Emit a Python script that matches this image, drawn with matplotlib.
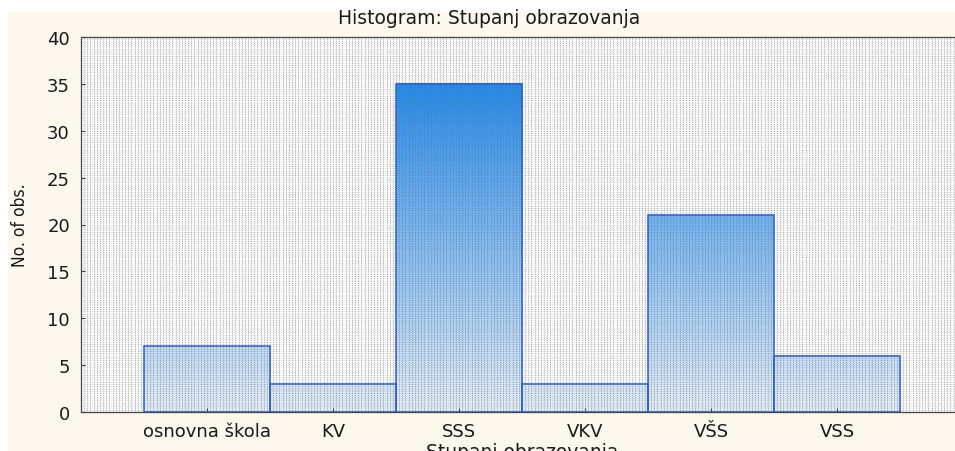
import numpy as np
import matplotlib.pyplot as plt
from matplotlib.colors import LinearSegmentedColormap
from matplotlib.patches import Rectangle

# data
categories = ['osnovna škola', 'KV', 'SSS', 'VKV', 'VŠS', 'VSS']
counts = [7, 3, 35, 3, 21, 6]
yticks = [0, 5, 10, 15, 20, 25, 30, 35, 40]

plt.rcParams['font.family'] = ['DejaVu Sans']

fig = plt.figure(figsize=(9.55, 4.52), dpi=100)
fig.patch.set_facecolor('white')
# cream panel (the screenshot has a thin white strip top/left)
fig.patches.append(Rectangle((8/955, 0), 1, 1 - 13/452, transform=fig.transFigure,
                             facecolor='#fdf8ee', edgecolor='none', zorder=-10))

ax = fig.add_axes([81/955, 39/452, 882/955, 375/452])
ax.set_facecolor('white')
ax.set_xlim(0, 7)
ax.set_ylim(0, 40)

# blue gradient, depends on the y value
cmap = LinearSegmentedColormap.from_list('bl', ['#e4eefa', '#1e8af0'])
xs = np.arange(1, len(categories) + 1)
for x, h in zip(xs, counts):
    grad = np.linspace(0, h, 200).reshape(-1, 1)
    ax.imshow(grad, extent=[x - 0.5, x + 0.5, 0, h], origin='lower', aspect='auto',
              cmap=cmap, vmin=0, vmax=35, zorder=1, interpolation='bilinear')
    ax.add_patch(Rectangle((x - 0.5, 0), 1, h, facecolor='none',
                           edgecolor='#2f5fcc', lw=1.1, zorder=4))

# dense dotted grid
for gx in np.arange(0, 7, 0.025):
    ax.axvline(gx, color='#707070', lw=0.6, ls=(0, (1, 1.2)), alpha=0.7, zorder=2)
for gy in np.arange(0, 40, 0.25):
    ax.axhline(gy, color='#808080', lw=0.5, ls=(0, (1, 1.5)), alpha=0.45, zorder=2)

for s in ax.spines.values():
    s.set_color('#444444')
    s.set_linestyle((0, (2, 1)))
    s.set_linewidth(0.9)

ax.set_xticks(xs)
ax.set_xticklabels(categories)
ax.set_yticks(yticks)
ax.tick_params(axis='both', direction='in', length=3, color='#333333', labelsize=13,
               labelcolor='#1a1a1a')
ax.tick_params(axis='x', pad=7)
ax.tick_params(axis='y', pad=8)

fig.text(489/955, 1 - 19/452, 'Histogram: Stupanj obrazovanja', ha='center', va='center',
         fontsize=13.5, color='#1a1a1a')
fig.text(522/955, 1 - 443/452, 'Stupanj obrazovanja', ha='center', va='top',
         fontsize=13.5, color='#1a1a1a')
fig.text(20/955, 1 - 225/452, 'No. of obs.', rotation=90, ha='center',
         va='center', fontsize=12.5, color='#1a1a1a', fontstretch='condensed',
         family=['DejaVu Sans'])

fig.savefig('out.png', dpi=100, facecolor=fig.get_facecolor())
